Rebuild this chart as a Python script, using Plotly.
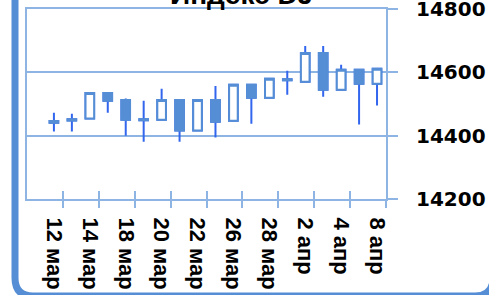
import plotly.graph_objects as go

# ---- data ----
dates = ["12 мар", "13 мар", "14 мар", "15 мар", "18 мар", "19 мар", "20 мар", "21 мар",
         "22 мар", "25 мар", "26 мар", "27 мар", "28 мар", "1 апр", "2 апр", "3 апр",
         "4 апр", "5 апр", "8 апр"]
open_ = [14441, 14448, 14454, 14535, 14513, 14452, 14450, 14513, 14416, 14513,
         14447, 14561, 14520, 14575, 14570, 14661, 14545, 14608, 14564]
high = [14472, 14469, 14537, 14537, 14517, 14510, 14548, 14515, 14515, 14557,
        14562, 14562, 14582, 14605, 14683, 14683, 14624, 14610, 14613]
low = [14413, 14413, 14452, 14472, 14400, 14381, 14448, 14381, 14414, 14394,
       14446, 14438, 14518, 14529, 14569, 14523, 14543, 14435, 14495]
close = [14446, 14452, 14535, 14510, 14450, 14449, 14513, 14416, 14513, 14444,
         14561, 14520, 14580, 14578, 14661, 14545, 14608, 14564, 14611]
y_ticks = [14200, 14400, 14600, 14800]
title_text = "Индекс DJ"

# ---- derived ----
pos = list(range(1, len(dates) + 1))
label_pos = pos[::2]
label_text = [f"<b>{d}</b>" for d in dates[::2]]
y_text = [f"<b>{v}</b>" for v in y_ticks]
boundaries = [p + 0.5 for p in label_pos]
body_hi = [max(o, c) for o, c in zip(open_, close)]
body_lo = [min(o, c) for o, c in zip(open_, close)]

BODY = "#558ED5"
WICK = "#3366EE"
GRID = "#8EB4E3"

fig = go.Figure()
# wicks
fig.add_trace(go.Candlestick(
    x=pos, open=open_, high=high, low=low, close=close,
    increasing=dict(line=dict(color=WICK, width=2), fillcolor=WICK),
    decreasing=dict(line=dict(color=WICK, width=2), fillcolor=WICK),
    hoverinfo="skip", showlegend=False, xaxis="x", yaxis="y"))
# bodies
fig.add_trace(go.Candlestick(
    x=pos, open=open_, high=body_hi, low=body_lo, close=close,
    increasing=dict(line=dict(color=BODY, width=2), fillcolor="white"),
    decreasing=dict(line=dict(color=BODY, width=2), fillcolor=BODY),
    hoverinfo="skip", showlegend=False, xaxis="x2", yaxis="y"))

xr = [-0.5, len(dates) + 0.5]

# outer rounded border (paper coords; plot area 27..386 x 9..199 px)
pw, ph = 359.0, 190.0
def px(x):
    return (x - 27) / pw
def py(y):
    return (199 - y) / ph
L, R, T, B = px(15), px(493), py(-20), py(296)
rx, ry = 18 / pw, 18 / ph
path = (f"M {L},{T} L {L},{B+ry} Q {L},{B} {L+rx},{B} "
        f"L {R-rx},{B} Q {R},{B} {R},{B+ry} L {R},{T}")

fig.update_layout(
    width=489, height=295,
    margin=dict(l=27, r=103, t=9, b=96, autoexpand=False),
    paper_bgcolor="white", plot_bgcolor="white",
    showlegend=False, hovermode=False,
    boxgap=0.52, boxgroupgap=0,
    xaxis=dict(range=xr, tickmode="array", tickvals=label_pos, ticktext=label_text,
               tickangle=90, ticks="", showgrid=False, zeroline=False,
               showline=True, linecolor=GRID, linewidth=2, mirror=True,
               ticklabelstandoff=12, automargin=False, ticklabeloverflow="allow",
               tickfont=dict(family="Liberation Sans", size=22, color="black"),
               minor=dict(tickmode="array", tickvals=boundaries, ticks="outside",
                          ticklen=7, tickwidth=2, tickcolor=GRID, showgrid=False),
               rangeslider=dict(visible=False)),
    xaxis2=dict(range=xr, overlaying="x", anchor="y", side="bottom",
                tickmode="array", tickvals=boundaries, ticks="inside", ticklen=8,
                tickwidth=2, tickcolor=GRID, showticklabels=False, showgrid=False,
                zeroline=False, showline=False, automargin=False,
                rangeslider=dict(visible=False)),
    yaxis=dict(range=[14200, 14800], tickmode="array", tickvals=y_ticks, ticktext=y_text,
               side="right", showgrid=True, gridcolor=GRID, gridwidth=2,
               ticks="outside", ticklen=10, tickwidth=2, tickcolor=GRID,
               showline=True, linecolor=GRID, linewidth=2, mirror=True,
               zeroline=False, ticklabelstandoff=14, automargin=False,
               ticklabeloverflow="allow",
               tickfont=dict(family="DejaVu Sans", size=20, color="black")),
    annotations=[dict(text=f"<b>{title_text}</b>", xref="paper", yref="paper",
                      x=px(241), y=py(12), xanchor="center", yanchor="bottom",
                      showarrow=False,
                      font=dict(family="Liberation Sans", size=28, color="black"))],
    shapes=[dict(type="path", xref="paper", yref="paper", path=path,
                 line=dict(color=BODY, width=7), fillcolor="rgba(0,0,0,0)", layer="above")],
)

fig.write_html("out.html", config={"displayModeBar": False, "staticPlot": True},
               post_script="document.body.style.margin='0';")
